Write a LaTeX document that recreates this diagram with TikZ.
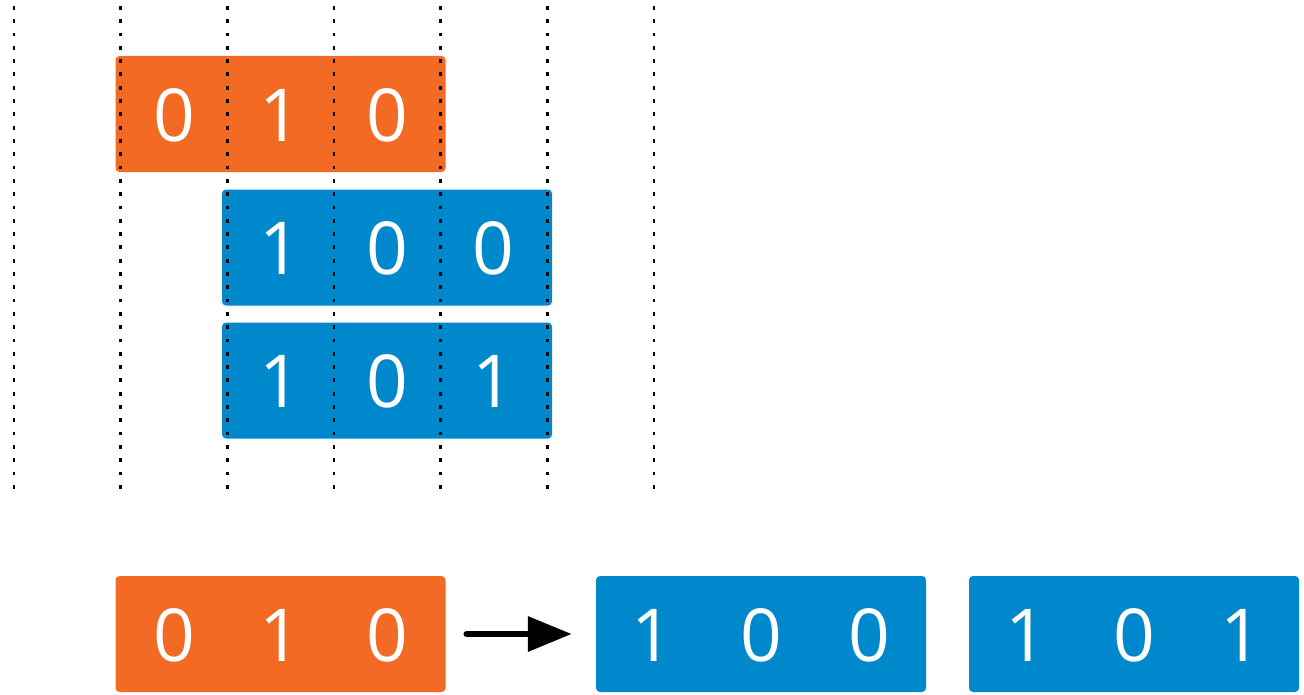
\documentclass[tikz,border=0pt]{standalone}
\usepackage{fontspec}
\setmainfont{Open Sans}
\usetikzlibrary{arrows.meta}
\definecolor{bitorange}{RGB}{242,106,36}
\definecolor{bitblue}{RGB}{0,136,204}
\begin{document}
\begin{tikzpicture}[x=1bp,y=-1bp,
  reg/.style={rounded corners=4bp, minimum width=330bp, minimum height=116bp, inner sep=0pt},
  oreg/.style={reg, fill=bitorange},
  breg/.style={reg, fill=bitblue},
  bit/.style={text=white, inner sep=0pt, font=\fontsize{73bp}{73bp}\selectfont},
  guide/.style={line width=2.9bp, dash pattern=on 3.8bp off 9.5bp},
  flow/.style={line width=6.5bp, line cap=round, -{Triangle[length=44bp,width=34bp]}, shorten <=21bp, shorten >=24bp}]
\useasboundingbox (0,0) rectangle (1304,694);

% shifted registers aligned on the grid
\node[oreg] (o1) at (280.5,114) {};
\node[breg] (b1) at (387,247.5) {};
\node[breg] (c1) at (387,380.5) {};

\node[bit] (o1a) at (174,115) {0};
\node[bit] (o1b) at (280.5,115) {1};
\node[bit] (o1c) at (387,115) {0};

\node[bit] (b1a) at (280.5,248) {1};
\node[bit] (b1b) at (387,248) {0};
\node[bit] (b1c) at (493.5,248) {0};

\node[bit] (c1a) at (280.5,381) {1};
\node[bit] (c1b) at (387,381) {0};
\node[bit] (c1c) at (493.5,381) {1};

% grid of dotted guides
\foreach \gx in {14,120.7,227.3,334,440.7,547.3,654}
  \draw[guide] (\gx,6) -- (\gx,490);

% resulting sequence
\node[oreg] (o2) at (280.5,634) {};
\node[breg] (b2) at (761,634) {};
\node[breg] (c2) at (1134,634) {};

\node[bit] (o2a) at (174,635) {0};
\node[bit] (o2b) at (280.5,635) {1};
\node[bit] (o2c) at (387,635) {0};

\node[bit] (b2a) at (652,635) {1};
\node[bit] (b2b) at (761,635) {0};
\node[bit] (b2c) at (869,635) {0};

\node[bit] (c2a) at (1026,635) {1};
\node[bit] (c2b) at (1134,635) {0};
\node[bit] (c2c) at (1241,635) {1};

\draw[flow] (o2) -- (b2);
\end{tikzpicture}
\end{document}
